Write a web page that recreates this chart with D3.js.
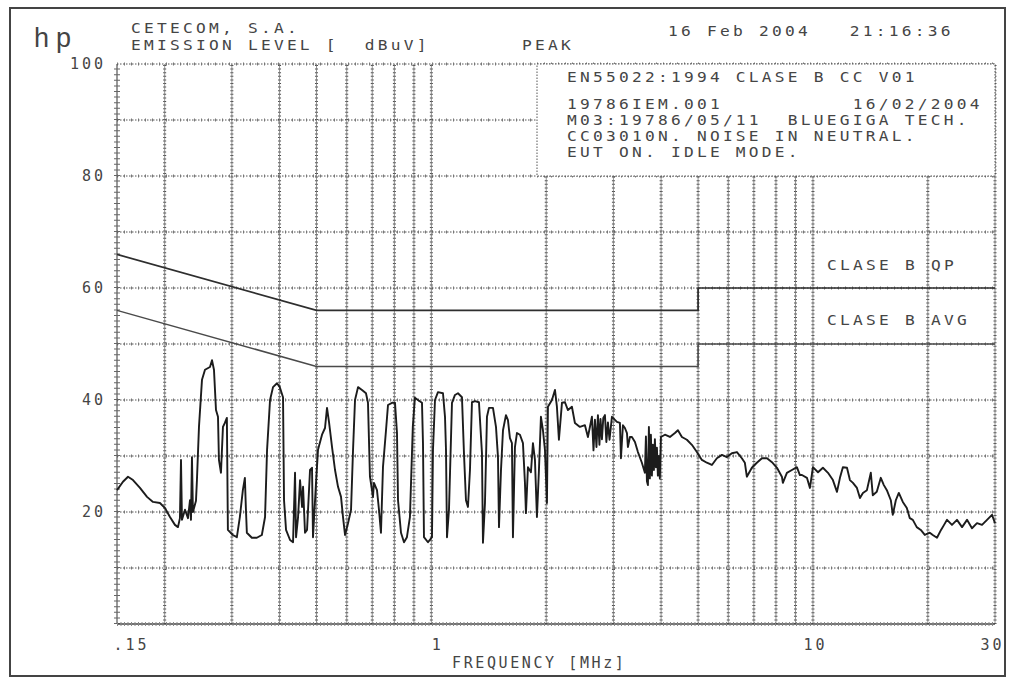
<!DOCTYPE html>
<html>
<head>
<meta charset="utf-8">
<script src="https://cdn.jsdelivr.net/npm/d3@7"></script>
<style>
  html, body { margin: 0; padding: 0; background: #fff; }
  svg { display: block; }
  .plotter { font-family: "DejaVu Sans Mono", "Liberation Mono", monospace; font-size: 15px; fill: #454545; letter-spacing: 3.9px; white-space: pre; }
</style>
</head>
<body>
<svg id="chart" width="1010" height="682"></svg>
<script>
// ---- data ----
// peak scan, frequency in MHz
const freqMHz = [
  0.150, 0.1555, 0.1603, 0.1652, 0.1723, 0.1798, 0.1864, 0.1944, 0.2004, 0.2065,
  0.2128, 0.2167, 0.2193, 0.2207, 0.2220, 0.2261, 0.2302, 0.2330, 0.2344, 0.2358,
  0.2372, 0.2416, 0.2430, 0.2460, 0.2505, 0.2551, 0.2629, 0.2661, 0.2693, 0.2726,
  0.2759, 0.2775, 0.2809, 0.2843, 0.2876, 0.2911, 0.2929, 0.3018, 0.3092, 0.3148,
  0.3206, 0.3245, 0.3264, 0.3284, 0.3384, 0.3488, 0.3595, 0.3665, 0.3710, 0.3777,
  0.3846, 0.3940, 0.4005, 0.4085, 0.4110, 0.4160, 0.4262, 0.4340, 0.4392, 0.4419,
  0.4473, 0.4527, 0.4582, 0.4610, 0.4665, 0.4722, 0.4808, 0.4866, 0.4895, 0.4985,
  0.5045, 0.5169, 0.5263, 0.5327, 0.5391, 0.5491, 0.5591, 0.5693, 0.5797, 0.5867,
  0.5939, 0.6047, 0.6158, 0.6233, 0.6308, 0.6424, 0.6580, 0.6739, 0.6821, 0.6903,
  0.7030, 0.7072, 0.7202, 0.7289, 0.7377, 0.7467, 0.7605, 0.7697, 0.7885, 0.8029,
  0.8126, 0.8176, 0.8325, 0.8477, 0.8628, 0.8786, 0.8940, 0.9054, 0.9220, 0.9449,
  0.9506, 0.9563, 0.9797, 1.0036, 1.0097, 1.022, 1.0406, 1.0725, 1.0857, 1.0922,
  1.0988, 1.1121, 1.1324, 1.1531, 1.1741, 1.2027, 1.2173, 1.2321, 1.2470, 1.2622,
  1.2775, 1.3008, 1.3326, 1.3570, 1.3652, 1.3818, 1.3986, 1.4156, 1.4502, 1.4768,
  1.4947, 1.5038, 1.5221, 1.5406, 1.5683, 1.5874, 1.6066, 1.6260, 1.6360, 1.6558,
  1.6759, 1.7065, 1.7377, 1.7588, 1.7694, 1.7910, 1.8236, 1.8458, 1.8683, 1.8908,
  1.9138, 1.9370, 1.9606, 1.9844, 2.0085, 2.0206, 2.070, 2.108, 2.133, 2.159,
  2.199, 2.239, 2.280, 2.335, 2.378, 2.451, 2.526, 2.572, 2.635, 2.660,
  2.683, 2.708, 2.732, 2.757, 2.775, 2.799, 2.822, 2.850, 2.875, 2.902,
  2.930, 2.973, 3.064, 3.120, 3.139, 3.177, 3.215, 3.255, 3.274, 3.314,
  3.354, 3.416, 3.478, 3.562, 3.627, 3.650, 3.672, 3.694, 3.716, 3.738,
  3.761, 3.784, 3.807, 3.830, 3.853, 3.877, 3.900, 3.923, 3.947, 3.970,
  3.995, 4.093, 4.218, 4.348, 4.427, 4.535, 4.673, 4.816, 4.964, 5.116,
  5.272, 5.434, 5.601, 5.773, 5.949, 6.132, 6.320, 6.511, 6.630, 6.711,
  6.916, 7.128, 7.352, 7.577, 7.810, 8.048, 8.291, 8.341, 8.545, 8.807,
  9.076, 9.242, 9.358, 9.644, 9.820, 10.00, 10.31, 10.62, 10.95, 11.28,
  11.56, 11.77, 11.98, 12.28, 12.50, 12.73, 13.04, 13.28, 13.52, 13.85,
  14.18, 14.35, 14.70, 15.06, 15.34, 15.62, 16.00, 16.19, 16.49, 16.79,
  17.20, 17.62, 17.94, 18.27, 18.71, 19.17, 19.64, 20.24, 20.61, 21.14,
  21.66, 22.06, 22.46, 23.14, 23.85, 24.59, 25.34, 26.11, 26.91, 27.74,
  28.59, 29.46, 30.00
];
// emission level, dBuV
const peakDbuV = [
  23.9, 25.4, 26.3, 25.7, 24.3, 22.7, 21.8, 21.6, 20.7, 19.1,
  17.7, 17.3, 18.9, 29.3, 18.6, 20.4, 18.9, 22.1, 18.6, 29.8,
  20.0, 22.0, 25.7, 35.2, 43.6, 45.4, 45.9, 47.1, 45.4, 38.2,
  37.0, 29.3, 27.0, 35.2, 35.9, 36.8, 16.8, 15.9, 15.5, 19.1,
  23.9, 26.1, 20.9, 16.3, 15.4, 15.4, 15.9, 19.1, 31.1, 40.0,
  42.3, 43.0, 42.3, 40.5, 22.1, 16.8, 15.0, 14.6, 27.0, 15.5,
  19.1, 25.7, 20.9, 24.5, 16.3, 16.8, 27.5, 27.9, 15.5, 25.2,
  31.1, 33.8, 35.0, 38.6, 36.1, 31.6, 27.5, 24.5, 22.7, 19.1,
  15.9, 18.0, 20.4, 31.1, 40.0, 42.3, 41.8, 41.2, 39.5, 26.3,
  22.7, 25.2, 23.9, 20.4, 16.3, 28.0, 34.6, 39.1, 39.5, 39.5,
  34.1, 22.1, 16.3, 14.6, 15.5, 19.1, 35.2, 40.4, 40.0, 39.5,
  32.3, 15.5, 14.6, 15.5, 31.1, 40.0, 41.4, 41.2, 37.0, 31.1,
  15.5, 20.4, 39.5, 40.9, 41.2, 40.5, 30.5, 22.1, 20.9, 27.5,
  39.6, 39.8, 39.6, 30.5, 14.5, 21.6, 37.0, 38.6, 38.6, 35.2,
  29.8, 17.3, 27.5, 34.6, 37.3, 36.4, 33.2, 32.3, 15.5, 31.6,
  34.1, 33.8, 32.3, 25.2, 19.8, 28.0, 27.1, 32.3, 29.3, 19.1,
  27.5, 37.0, 34.6, 31.1, 21.6, 38.8, 40.0, 41.8, 38.8, 32.9,
  39.5, 39.6, 38.2, 38.8, 35.9, 35.2, 35.5, 33.4, 37.0, 31.0,
  36.5, 31.6, 37.3, 32.0, 36.6, 33.0, 36.8, 37.3, 32.5, 36.0,
  32.9, 37.0, 36.1, 35.9, 29.6, 35.5, 35.0, 34.1, 31.6, 33.4,
  33.4, 32.5, 30.7, 28.8, 27.0, 33.5, 25.5, 24.8, 35.2, 26.0,
  33.8, 26.5, 32.0, 27.5, 33.0, 28.0, 31.5, 26.5, 30.0, 26.0,
  33.4, 33.8, 33.4, 34.1, 34.6, 33.4, 32.9, 32.0, 30.7, 29.3,
  28.8, 28.4, 29.6, 30.2, 29.8, 30.5, 30.7, 29.6, 28.8, 26.3,
  27.9, 28.8, 29.6, 29.6, 28.9, 27.9, 26.3, 25.2, 27.0, 27.5,
  28.0, 26.6, 26.6, 26.1, 24.3, 28.0, 27.1, 27.9, 27.0, 25.7,
  23.6, 26.1, 28.0, 27.9, 25.7, 25.2, 24.3, 22.5, 23.4, 23.9,
  27.0, 23.0, 23.6, 26.1, 24.8, 23.9, 22.1, 19.5, 22.1, 23.4,
  21.8, 20.7, 18.9, 18.6, 17.3, 16.8, 15.9, 16.3, 15.9, 15.4,
  16.8, 17.7, 18.6, 17.7, 18.6, 17.3, 18.6, 17.1, 18.0, 17.7,
  18.6, 19.5, 18.0
];

// EN55022 class B limits
const limitFreq = [0.15, 0.5, 5, 5, 30];
const limitQP = [66, 56, 56, 60, 60];
const limitAVG = [56, 46, 46, 50, 50];

// grid and tick labels
const gridDb = [10, 20, 30, 40, 50, 60, 70, 80, 90];
const gridFreq = [0.2, 0.3, 0.4, 0.5, 0.6, 0.7, 0.8, 0.9, 1, 2, 3, 4, 5, 6, 7, 8, 9, 10, 20];
const yTickValues = [20, 40, 60, 80, 100];
const xTickValues = [0.15, 1, 10, 30];
const xTickLabels = ['.15', '1', '10', '30'];

const headerLines = ['CETECOM, S.A.', 'EMISSION LEVEL [  dBuV]'];
const detector = 'PEAK';
const stamp = '16 Feb 2004   21:16:36';
const noteLines = [
  'EN55022:1994 CLASE B CC V01',
  '19786IEM.001          16/02/2004',
  'M03:19786/05/11  BLUEGIGA TECH.',
  'CC03010N. NOISE IN NEUTRAL.',
  'EUT ON. IDLE MODE.'
];
const legendLabels = ['CLASE B QP', 'CLASE B AVG'];
const xTitle = 'FREQUENCY [MHz]';

// ---- layout ----
const width = 1010, height = 682;
const margin = { top: 64, right: 15, bottom: 58, left: 117 };

const svg = d3.select('#chart');
const x = d3.scaleLog().domain([0.15, 30]).range([margin.left, width - margin.right]);
const y = d3.scaleLinear().domain([0, 100]).range([height - margin.bottom, margin.top]);

// wide plotter lettering: small font stretched sideways, 13px pitch
function plotText(parent, str, px, py) {
  return parent.append('text')
    .attr('class', 'plotter')
    .attr('transform', `translate(${px},${py}) scale(1.2,1)`)
    .style('font-size', '13.5px')
    .style('letter-spacing', '2.7px')
    .text(str);
}

// outer frame of the plotter sheet
svg.append('rect')
  .attr('x', 10).attr('y', 8).attr('width', 995).attr('height', 668)
  .attr('fill', 'none').attr('stroke', '#444').attr('stroke-width', 2);

// grid: horizontal dotted lines + small ticks
const grid = svg.append('g');
grid.selectAll('.hline').data(gridDb.concat([100])).enter().append('line')
  .attr('x1', x(0.15)).attr('x2', x(30))
  .attr('y1', d => y(d)).attr('y2', d => y(d))
  .attr('stroke', '#555').attr('stroke-width', 1).attr('stroke-dasharray', '1.5 1.5');
grid.selectAll('.htick').data(gridDb.concat([100])).enter().append('line')
  .attr('x1', x(0.15)).attr('x2', x(30))
  .attr('y1', d => y(d)).attr('y2', d => y(d))
  .attr('stroke', '#777').attr('stroke-width', 3).attr('stroke-dasharray', '1 6');

// vertical lines: column of short bars
grid.selectAll('.vline').data(gridFreq.concat([30])).enter().append('line')
  .attr('x1', d => x(d)).attr('x2', d => x(d))
  .attr('y1', y(0)).attr('y2', y(100))
  .attr('stroke', '#4d4d4d').attr('stroke-width', 3).attr('stroke-dasharray', '1 2.6');
grid.selectAll('.vcore').data(gridFreq.concat([30])).enter().append('line')
  .attr('x1', d => x(d)).attr('x2', d => x(d))
  .attr('y1', y(0)).attr('y2', y(100))
  .attr('stroke', '#777').attr('stroke-width', 0.8);

// left axis with 1 dB ruler ticks
svg.append('line')
  .attr('x1', x(0.15)).attr('x2', x(0.15)).attr('y1', y(0)).attr('y2', y(100))
  .attr('stroke', '#555').attr('stroke-width', 1.2);
svg.append('line')
  .attr('x1', x(0.15)).attr('x2', x(0.15)).attr('y1', y(0)).attr('y2', y(100))
  .attr('stroke', '#666').attr('stroke-width', 6)
  .attr('stroke-dasharray', `1 ${Math.abs(y(1) - y(0)) - 1}`);

// bottom axis
svg.append('line')
  .attr('x1', x(0.15)).attr('x2', x(30)).attr('y1', y(0)).attr('y2', y(0))
  .attr('stroke', '#444').attr('stroke-width', 1.3);
svg.append('line')
  .attr('x1', x(0.15)).attr('x2', x(30)).attr('y1', y(0)).attr('y2', y(0))
  .attr('stroke', '#888').attr('stroke-width', 4).attr('stroke-dasharray', '1 2.5');

// note box (covers the grid above 80 dB on the right)
const boxLeft = 537;
svg.append('rect')
  .attr('x', boxLeft).attr('y', y(100))
  .attr('width', x(30) - boxLeft).attr('height', y(80) - y(100))
  .attr('fill', '#fff').attr('stroke', '#555').attr('stroke-width', 1)
  .attr('stroke-dasharray', '1.5 1.5');

const noteBase = [82, 109, 125, 141, 157];
const notes = svg.append('g');
noteLines.forEach((d, i) => plotText(notes, d, 567, noteBase[i]));

// limit lines
const limitLine = d3.line().x(d => x(d[0])).y(d => y(d[1]));
svg.append('path')
  .datum(d3.zip(limitFreq, limitQP))
  .attr('d', limitLine)
  .attr('fill', 'none').attr('stroke', '#2e2e2e').attr('stroke-width', 1.7);
svg.append('path')
  .datum(d3.zip(limitFreq, limitAVG))
  .attr('d', limitLine)
  .attr('fill', 'none').attr('stroke', '#4a4a4a').attr('stroke-width', 1.5);

// legend labels
const legend = svg.append('g');
legendLabels.forEach((d, i) => plotText(legend, d, 827, [270, 325][i]));

// measured trace
const trace = d3.line()
  .x(d => x(d[0]))
  .y(d => y(d[1]));
svg.append('path')
  .datum(d3.zip(freqMHz, peakDbuV))
  .attr('d', trace)
  .attr('fill', 'none').attr('stroke', '#1c1c1c').attr('stroke-width', 1.9)
  .attr('stroke-linejoin', 'round');

// axis labels through d3 axes
const yAxis = d3.axisLeft(y).tickValues(yTickValues).tickSize(0).tickPadding(0);
const gy = svg.append('g').attr('transform', 'translate(106, 0)').call(yAxis);
gy.select('.domain').remove();
gy.selectAll('text').attr('class', 'plotter').attr('fill', null)
  .style('font-size', '15px').style('letter-spacing', '3px');

const xAxis = d3.axisBottom(x).tickValues(xTickValues)
  .tickFormat((d, i) => xTickLabels[i]).tickSize(0).tickPadding(0);
const gx = svg.append('g').attr('transform', 'translate(0, 639)').call(xAxis);
gx.select('.domain').remove();
gx.selectAll('text').attr('class', 'plotter').attr('fill', null)
  .style('font-size', '15px').style('letter-spacing', '3px')
  .attr('text-anchor', (d, i) => i === 0 ? 'start' : 'middle')
  .attr('dx', (d, i) => [-4, 6, 2, -3][i]);

svg.append('text').attr('class', 'plotter')
  .attr('x', 452).attr('y', 668).style('letter-spacing', '2.6px')
  .text(xTitle);

// header
svg.append('text')
  .attr('x', 34).attr('y', 47)
  .style('font-family', '"Liberation Sans", "DejaVu Sans", sans-serif')
  .style('font-size', '27px').style('letter-spacing', '7px')
  .attr('fill', '#444')
  .text('hp');
const header = svg.append('g');
headerLines.forEach((d, i) => plotText(header, d, 131, [33, 50][i]));
plotText(header, detector, 522, 50);
plotText(header, stamp, 668, 36);
</script>
</body>
</html>
